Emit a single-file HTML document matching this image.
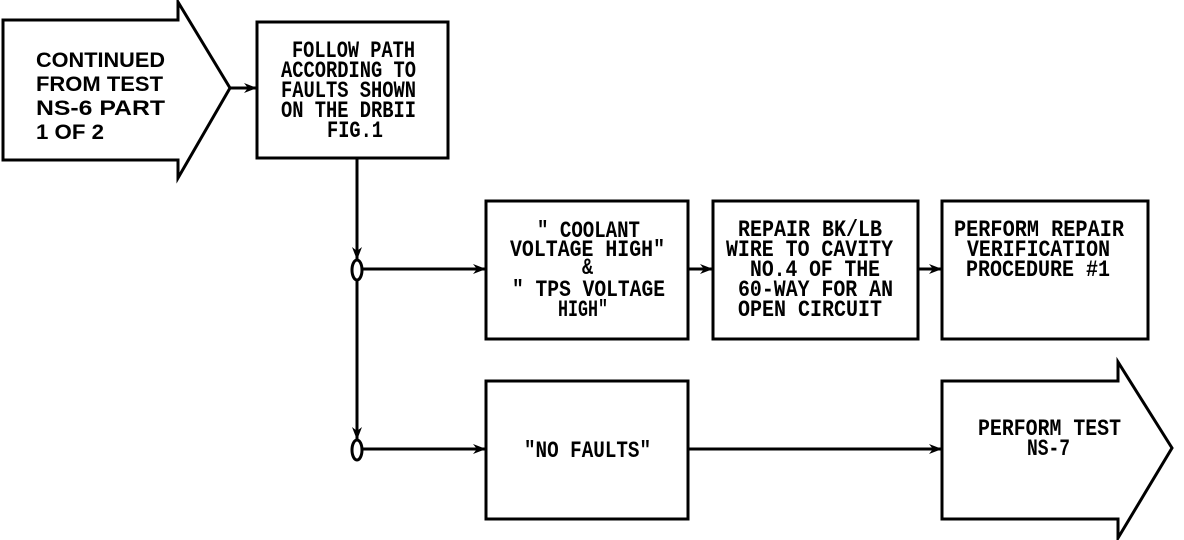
<!DOCTYPE html>
<html><head><style>html,body{margin:0;padding:0;background:#fff}svg{display:block}
text{font-family:"Liberation Mono",monospace;font-weight:bold;font-size:23px;fill:#000}
.s{font-family:"Liberation Sans",sans-serif;font-size:21px}</style></head><body>
<svg width="1184" height="540" viewBox="0 0 1184 540" xmlns="http://www.w3.org/2000/svg">
<defs><marker id="a" markerWidth="13" markerHeight="10" refX="13" refY="5" orient="auto" markerUnits="userSpaceOnUse"><path d="M0,0 L13,5 L0,10 L4,5 Z" fill="#000"/></marker></defs>
<g fill="none" stroke="#000" stroke-width="3">
<path d="M3,20 H178 V2 L230,88 L178,178 V160 H3 Z"/>
<rect x="257" y="22" width="191" height="136"/>
<rect x="486" y="201" width="202" height="138"/>
<rect x="713" y="201" width="205" height="138"/>
<rect x="942" y="201" width="206" height="138"/>
<rect x="486" y="381" width="202" height="138"/>
<path d="M942,381 H1118 V362 L1172,448 L1118,538 V519 H942 Z"/>
<line x1="230" y1="88" x2="257" y2="88" marker-end="url(#a)"/>
<line x1="357" y1="158" x2="357" y2="260" marker-end="url(#a)"/>
<line x1="357" y1="281" x2="357" y2="440" marker-end="url(#a)"/>
<ellipse cx="357" cy="270" rx="5" ry="10"/>
<ellipse cx="357" cy="450" rx="5" ry="10"/>
<line x1="362" y1="269" x2="486" y2="269" marker-end="url(#a)"/>
<line x1="362" y1="449" x2="486" y2="449" marker-end="url(#a)"/>
<line x1="688" y1="269" x2="713" y2="269" marker-end="url(#a)"/>
<line x1="918" y1="269" x2="942" y2="269" marker-end="url(#a)"/>
<line x1="688" y1="449" x2="942" y2="449" marker-end="url(#a)"/>
</g>
<text class="s" x="36" y="67" textLength="129" lengthAdjust="spacingAndGlyphs">CONTINUED</text>
<text class="s" x="36" y="91" textLength="127" lengthAdjust="spacingAndGlyphs">FROM TEST</text>
<text class="s" x="36" y="115" textLength="129" lengthAdjust="spacingAndGlyphs">NS-6 PART</text>
<text class="s" x="36" y="139" textLength="68" lengthAdjust="spacingAndGlyphs">1 OF 2</text>
<text x="292" y="57" textLength="123" lengthAdjust="spacingAndGlyphs">FOLLOW PATH</text>
<text x="281" y="77" textLength="135" lengthAdjust="spacingAndGlyphs">ACCORDING TO</text>
<text x="281" y="97" textLength="135" lengthAdjust="spacingAndGlyphs">FAULTS SHOWN</text>
<text x="281" y="117" textLength="135" lengthAdjust="spacingAndGlyphs">ON THE DRBII</text>
<text x="327" y="137" textLength="56" lengthAdjust="spacingAndGlyphs">FIG.1</text>
<text x="537" y="237" textLength="103" lengthAdjust="spacingAndGlyphs">" COOLANT</text>
<text x="510" y="256" textLength="155" lengthAdjust="spacingAndGlyphs">VOLTAGE HIGH"</text>
<text x="582" y="274" textLength="11" lengthAdjust="spacingAndGlyphs">&amp;</text>
<text x="512" y="296" textLength="153" lengthAdjust="spacingAndGlyphs">" TPS VOLTAGE</text>
<text x="558" y="316" textLength="50" lengthAdjust="spacingAndGlyphs">HIGH"</text>
<text x="738" y="236" textLength="144" lengthAdjust="spacingAndGlyphs">REPAIR BK/LB</text>
<text x="726" y="256" textLength="167" lengthAdjust="spacingAndGlyphs">WIRE TO CAVITY</text>
<text x="750" y="276" textLength="130" lengthAdjust="spacingAndGlyphs">NO.4 OF THE</text>
<text x="738" y="296" textLength="155" lengthAdjust="spacingAndGlyphs">60-WAY FOR AN</text>
<text x="738" y="316" textLength="144" lengthAdjust="spacingAndGlyphs">OPEN CIRCUIT</text>
<text x="954" y="236" textLength="170" lengthAdjust="spacingAndGlyphs">PERFORM REPAIR</text>
<text x="967" y="256" textLength="143" lengthAdjust="spacingAndGlyphs">VERIFICATION</text>
<text x="966" y="276" textLength="144" lengthAdjust="spacingAndGlyphs">PROCEDURE #1</text>
<text x="524" y="457" textLength="127" lengthAdjust="spacingAndGlyphs">"NO FAULTS"</text>
<text x="978" y="435" textLength="143" lengthAdjust="spacingAndGlyphs">PERFORM TEST</text>
<text x="1027" y="455" textLength="43" lengthAdjust="spacingAndGlyphs">NS-7</text>
</svg></body></html>
